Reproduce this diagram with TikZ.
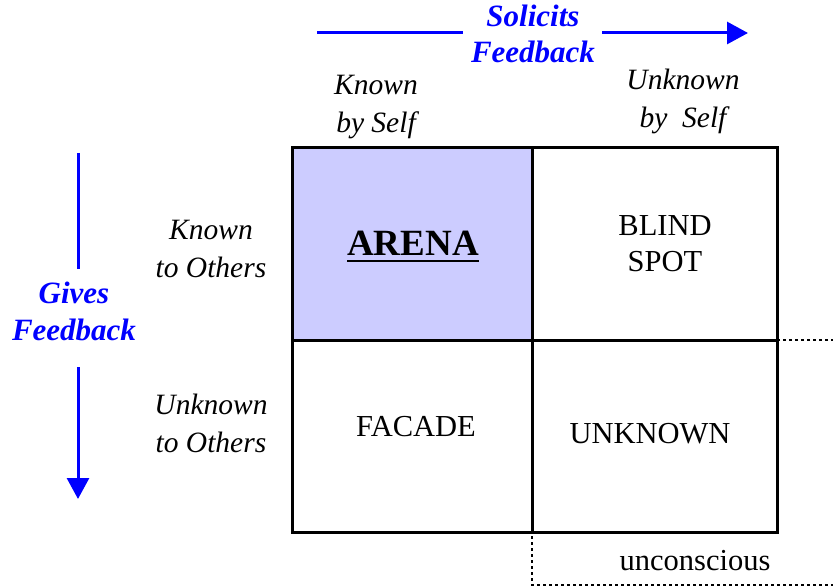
\documentclass[tikz,border=0pt]{standalone}
\usepackage{fontspec}
\setmainfont{Liberation Serif}
\usetikzlibrary{arrows.meta}
\definecolor{arenablue}{RGB}{204,204,255}
\definecolor{fbblue}{RGB}{0,0,255}
\tikzset{
  x=1pt, y=-1pt,
  gridline/.style={line width=3pt, draw=black},
  dotline/.style={line width=2.8pt, dash pattern=on 3pt off 3pt, draw=black},
  fbarrow/.style={line width=3pt, draw=fbblue, -{Triangle[length=21pt,width=22pt]}},
  fbline/.style={line width=3pt, draw=fbblue},
  fbtext/.style={text=fbblue, font=\fontsize{31}{36}\selectfont\bfseries\itshape, align=center, inner sep=0pt, anchor=base},
  lbl/.style={font=\fontsize{29.5}{38}\selectfont\itshape, align=center, inner sep=0pt, anchor=base},
  cell/.style={font=\fontsize{30.5}{36}\selectfont, align=center, inner sep=0pt, anchor=base},
}
\begin{document}
\begin{tikzpicture}
\useasboundingbox (0,0) rectangle (833,588);
% fill of arena
\fill[arenablue] (292,148) rectangle (532,340);
% dotted unconscious area
\coordinate (d1) at (532,340);
\coordinate (d2) at (840,340);
\coordinate (d3) at (532,585);
\coordinate (d4) at (840,585);
\draw[dotline] (d2) -- (d1) -- (d3) -- (d4);
% grid
\coordinate (tl) at (292,148);
\coordinate (br) at (777,532);
\draw[gridline] (tl) rectangle (br);
\draw[gridline] (532,148) -- (532,532);
\draw[gridline] (292,340) -- (777,340);
% cell texts
\node[cell, font=\fontsize{37}{40}\selectfont\bfseries] (arena) at (413,255) {ARENA};
\draw[line width=2.2pt] (arena.base west) ++(0,6) -- ([yshift=-6pt]arena.base east);
\node[cell] (blind) at (665,272) {BLIND\\SPOT};
\node[cell] (facade) at (416,436) {FACADE};
\node[cell] (unknown) at (650,443) {UNKNOWN};
\node[cell] (uncon) at (695,570) {unconscious};
% top labels
\node[fbtext] (sol) at (533,63) {Solicits\\Feedback};
\coordinate (h1) at (317,33);
\coordinate (h2) at (463,33);
\coordinate (h3) at (602,33);
\coordinate (h4) at (748,33);
\draw[fbline] (h1) -- (h2);
\draw[fbarrow] (h3) -- (h4);
\node[lbl] (kbs) at (376,133) {Known\\by Self};
\node[lbl] (ubs) at (683,128) {Unknown\\by\ \ Self};
% left labels
\node[fbtext] (gives) at (74,340) {Gives\\Feedback};
\coordinate (v1) at (78,153);
\coordinate (v2) at (78,269);
\coordinate (v3) at (78,367);
\coordinate (v4) at (78,499);
\draw[fbline] (v1) -- (v2);
\draw[fbarrow] (v3) -- (v4);
\node[lbl] (kto) at (211,277) {Known\\to Others};
\node[lbl] (uto) at (211,452) {Unknown\\to Others};
\end{tikzpicture}
\end{document}
